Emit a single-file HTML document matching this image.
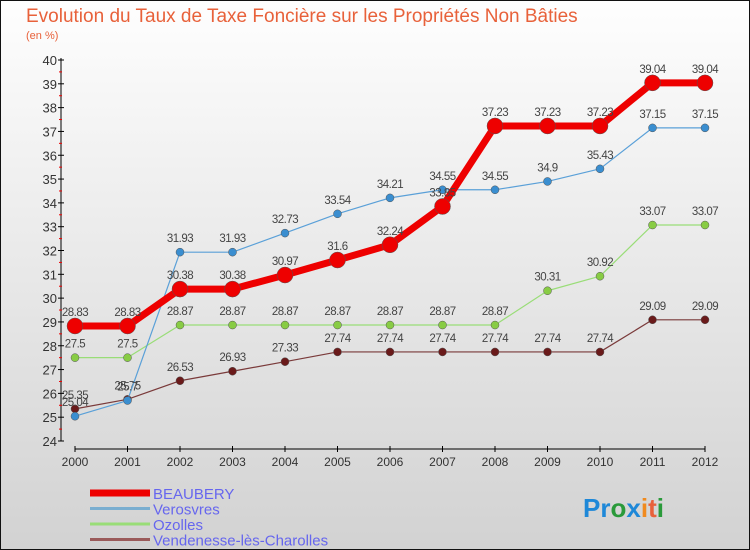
<!DOCTYPE html>
<html><head><meta charset="utf-8"><style>
html,body{margin:0;padding:0}
body{width:750px;height:550px;overflow:hidden;font-family:"Liberation Sans",sans-serif}
</style></head><body>
<svg width="750" height="550" style="display:block">
<defs><linearGradient id="bg" x1="0" y1="0" x2="0" y2="1"><stop offset="0" stop-color="#fefefe"/><stop offset="1" stop-color="#d2d2d2"/></linearGradient></defs>
<rect x="0.5" y="0.5" width="749" height="549" fill="url(#bg)" stroke="#111"/>
<text x="26" y="22" font-size="19" fill="#e8613a">Evolution du Taux de Taxe Foncière sur les Propriétés Non Bâties</text>
<text x="26" y="39" font-size="11" fill="#e8613a">(en %)</text>
<g id="axes"></g>
<g id="series"></g>
<g id="legend"></g>
<text x="583" y="517" font-size="26" font-weight="bold"><tspan fill="#1e88d8">Pr</tspan><tspan fill="#2a9a3a">o</tspan><tspan fill="#1e88d8">x</tspan><tspan fill="#f08a1e">i</tspan><tspan fill="#e8613a">t</tspan><tspan fill="#2a9a3a">i</tspan></text>
</svg>
<script>
const years=[2000,2001,2002,2003,2004,2005,2006,2007,2008,2009,2010,2011,2012];
const yTicks=[24,25,26,27,28,29,30,31,32,33,34,35,36,37,38,39,40];
const beaubery=[28.83,28.83,30.38,30.38,30.97,31.6,32.24,33.85,37.23,37.23,37.23,39.04,39.04];
const verosvres=[25.04,25.7,31.93,31.93,32.73,33.54,34.21,34.55,34.55,34.9,35.43,37.15,37.15];
const ozolles=[27.5,27.5,28.87,28.87,28.87,28.87,28.87,28.87,28.87,30.31,30.92,33.07,33.07];
const vendenesse=[25.35,25.75,26.53,26.93,27.33,27.74,27.74,27.74,27.74,27.74,27.74,29.09,29.09];
const seriesNames=["BEAUBERY","Verosvres","Ozolles","Vendenesse-lès-Charolles"];
const NS="http://www.w3.org/2000/svg";
const X=i=>75+i*(630/12);
const Y=v=>441-(v-24)*(381/16);
function mk(tag,attrs,parent){const e=document.createElementNS(NS,tag);for(const k in attrs)e.setAttribute(k,attrs[k]);parent.appendChild(e);return e;}
const ax=document.getElementById('axes');
let l=mk('line',{x1:61,y1:58,x2:61,y2:441,stroke:'#000'},ax);


yTicks.forEach(t=>{
  mk('line',{x1:58,x2:64,y1:Y(t),y2:Y(t),stroke:'#000'},ax);
  if(t<40)mk('line',{x1:59,x2:62,y1:Y(t+0.5),y2:Y(t+0.5),stroke:'#e00'},ax);
  const tx=mk('text',{x:57,y:Y(t)+5,'font-size':13,fill:'#333','text-anchor':'end'},ax);
  tx.textContent=t;
  
  
});
l=mk('line',{x1:X(0),y1:449,x2:X(12),y2:449,stroke:'#000'},ax);


years.forEach((yr,i)=>{
  mk('line',{x1:X(i),x2:X(i),y1:446,y2:452,stroke:'#000'},ax);
  const tx=mk('text',{x:X(i),y:466,'font-size':12,fill:'#333','text-anchor':'middle'},ax);
  tx.textContent=yr;
  
  
});
const sg=document.getElementById('series');
function draw(vals,color,w,r,name,dot){
  const g=mk('g',{},sg);
  
  
  const p=mk('polyline',{points:vals.map((v,i)=>X(i)+','+Y(v)).join(' '),fill:'none',stroke:color,'stroke-width':w,'stroke-linejoin':'round'},g);
  
  
  vals.forEach((v,i)=>{
    const c=mk('circle',{cx:X(i),cy:Y(v),r:r,fill:dot,stroke:'#555','stroke-width':0.5},g);
    
    
    const t=mk('text',{x:X(i),y:Y(v)-10,'font-size':11.5,fill:'#444','text-anchor':'middle','letter-spacing':'-0.5'},g);
    t.textContent=v;
    
    
  });
}
draw(vendenesse,'#7a3a3a',1.2,4,'vendenesse','#6a1a1a');
draw(ozolles,'#99dd77',1.2,4,'ozolles','#88cc44');
draw(verosvres,'#5aa0d8',1.2,4,'verosvres','#3a8ed0');
draw(beaubery,'#ee0000',7,8,'beaubery','#ee0000');
const lg=document.getElementById('legend');
const lc=['#ee0000','#7aaed0','#99dd77','#9a5a5a'],lw=[7,3,3,3];
seriesNames.forEach((n,i)=>{
  const y=493+i*15.5;
  const g=mk('g',{},lg);
  
  
  mk('line',{x1:90,x2:150,y1:y,y2:y,stroke:lc[i],'stroke-width':lw[i]},g);
  const t=mk('text',{x:153,y:y+6,'font-size':15,fill:'#6666ee'},g);
  t.textContent=n;
});
</script>
</body></html>
